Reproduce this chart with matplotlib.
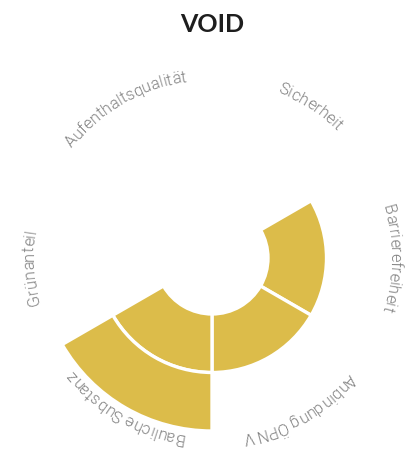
import numpy as np
import matplotlib
matplotlib.use("Agg")
import matplotlib.pyplot as plt
from matplotlib.font_manager import FontProperties, findfont
from matplotlib.ft2font import FT2Font

# ---- data ----
title = "VOID"
categories = ["Sicherheit", "Barrierefreiheit", "Anbindung ÖPNV",
              "Bauliche Substanz", "Grünanteil", "Aufenthaltsqualität"]
values = [0, 1, 1, 2, 0, 0]

# ---- figure ----
W, H = 414, 455
DPI = 100
fig = plt.figure(figsize=(W / DPI, H / DPI), dpi=DPI)
fig.patch.set_facecolor("white")

cx, cy = 212, H - 258        # chart centre in pixels (from bottom-left)
R = 205                       # axes radius in pixels
unit = 58.5                   # pixels per level
hole = 56 / unit              # inner hole radius in levels

ax = fig.add_axes([(cx - R) / W, (cy - R) / H, 2 * R / W, 2 * R / H],
                  projection="polar")
ax.set_theta_zero_location("N")
ax.set_theta_direction(-1)
ax.set_ylim(0, R / unit)
ax.axis("off")

bar_color = "#dcbc4a"
n = len(categories)
width = 2 * np.pi / n
theta = np.arange(n) * width + width / 2

for i, v in enumerate(values):
    for k in range(v):
        ax.bar(theta[i], 1, width=width, bottom=hole + k, color=bar_color,
               edgecolor="white", linewidth=2.4, align="center")

# ---- curved labels ----
FS = 11.8
label_prop = FontProperties(family=["Roboto", "DejaVu Sans"], weight=300, size=FS)
ft = FT2Font(findfont(label_prop))
ft.set_size(FS, DPI)

def advance(ch):
    g = ft.load_char(ord(ch))
    return g.linearHoriAdvance / 65536.0

label_nudge_deg = [3, 0, 0, 0, -3, 0]
r_px = 178
r_label = r_px / unit
for i, lab in enumerate(categories):
    advs = [advance(c) for c in lab]
    total = sum(advs)
    pos = 0.0
    for ch, a in zip(lab, advs):
        centre = pos + a / 2
        pos += a
        if ch == " ":
            continue
        th = theta[i] + np.radians(label_nudge_deg[i]) + (centre - total / 2) / r_px
        ax.text(th, r_label, ch, fontproperties=label_prop, color="#808080",
                rotation=-np.degrees(th), rotation_mode="anchor",
                ha="center", va="baseline")

fig.text(212 / W, (H - 32) / H, title, ha="center", va="baseline",
         fontsize=18, fontweight="bold", family=["Lato", "DejaVu Sans"],
         color="#1e1e1e")

fig.savefig("out.png", dpi=DPI, facecolor="white")
